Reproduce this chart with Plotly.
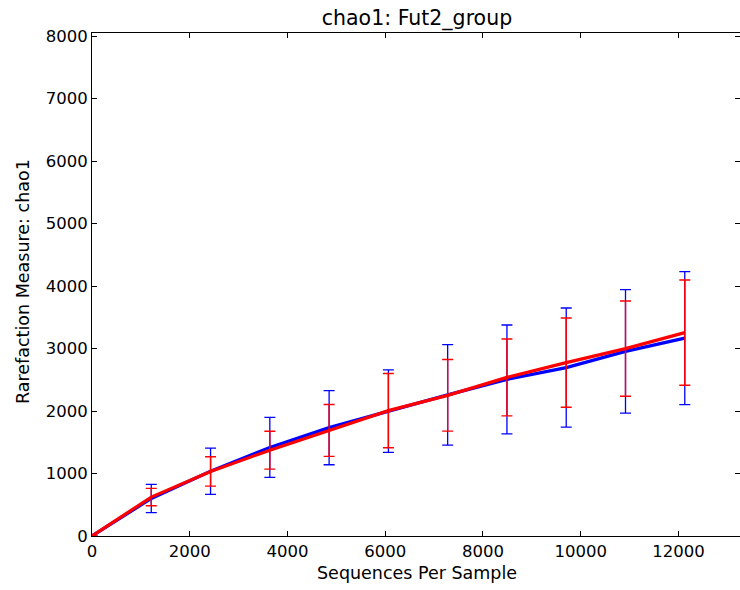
import plotly.graph_objects as go

seqs = [0, 1213, 2426, 3639, 4852, 6065, 7278, 8491, 9704, 10917, 12130]
blue_mean = [0, 600, 1036, 1418, 1734, 1998, 2259, 2506, 2695, 2954, 3167]
blue_err = [0, 227, 370, 480, 594, 660, 805, 871, 954, 988, 1063]
red_mean = [0, 623, 1033, 1374, 1690, 2006, 2251, 2538, 2775, 2999, 3255]
red_err = [0, 139, 235, 303, 415, 594, 573, 615, 714, 762, 842]
x_ticks = [0, 2000, 4000, 6000, 8000, 10000, 12000]
y_ticks = [0, 1000, 2000, 3000, 4000, 5000, 6000, 7000, 8000]

FONT = "DejaVu Sans"
fig = go.Figure()

for mean, err, col, th in [(blue_mean, blue_err, "#0000ff", 1.3), (red_mean, red_err, "#ff0000", 1.4)]:
    fig.add_trace(go.Scatter(
        x=seqs, y=mean, mode="lines", line=dict(color=col, width=3.2),
        error_y=dict(type="data", array=err, visible=True, color=col, thickness=th, width=5.5),
        showlegend=False, hoverinfo="skip"))

# invisible trace for the right-side tick axis
fig.add_trace(go.Scatter(x=[0], y=[0], yaxis="y2", mode="markers",
                         marker=dict(opacity=0), showlegend=False, hoverinfo="skip"))

fig.update_layout(
    width=740, height=590,
    margin=dict(l=92, r=0, t=33, b=54, autoexpand=False),
    paper_bgcolor="white", plot_bgcolor="white",
    font=dict(family=FONT, size=16.5, color="black"),
    title=dict(text="chao1: Fut2_group", x=0.5635, xanchor="center", y=0.9695, yanchor="middle",
               font=dict(family=FONT, size=20.5, color="black")),
    xaxis=dict(range=[0, 13260], tickvals=x_ticks, ticktext=[str(v) for v in x_ticks],
               ticks="inside", ticklen=5, tickcolor="black", showline=True, linecolor="black",
               linewidth=1, mirror="ticks", showgrid=False, zeroline=False, automargin=False),
    yaxis=dict(range=[0, 8050], tickvals=y_ticks, ticktext=[str(v) for v in y_ticks],
               ticks="inside", ticklen=5, tickcolor="black", showline=True, linecolor="black",
               linewidth=1, showgrid=False, zeroline=False, automargin=False),
    yaxis2=dict(overlaying="y", side="right", matches="y", range=[0, 8050],
                tickvals=y_ticks, automargin=False,
                ticks="inside", ticklen=5, tickcolor="black", showticklabels=False,
                showline=False, showgrid=False, zeroline=False),
    annotations=[
        dict(text="Sequences Per Sample", xref="paper", yref="paper", x=0.5015, y=-0.0736,
             xanchor="center", yanchor="middle", showarrow=False,
             font=dict(family=FONT, size=17.5, color="black")),
        dict(text="Rarefaction Measure: chao1", xref="paper", yref="paper", x=-0.1065, y=0.507,
             xanchor="center", yanchor="middle", textangle=-90, showarrow=False,
             font=dict(family=FONT, size=17.5, color="black")),
    ],
)

fig.write_html("out.html", config={"displayModeBar": False},
               post_script="document.body.style.margin='0';document.body.style.overflow='hidden';")
